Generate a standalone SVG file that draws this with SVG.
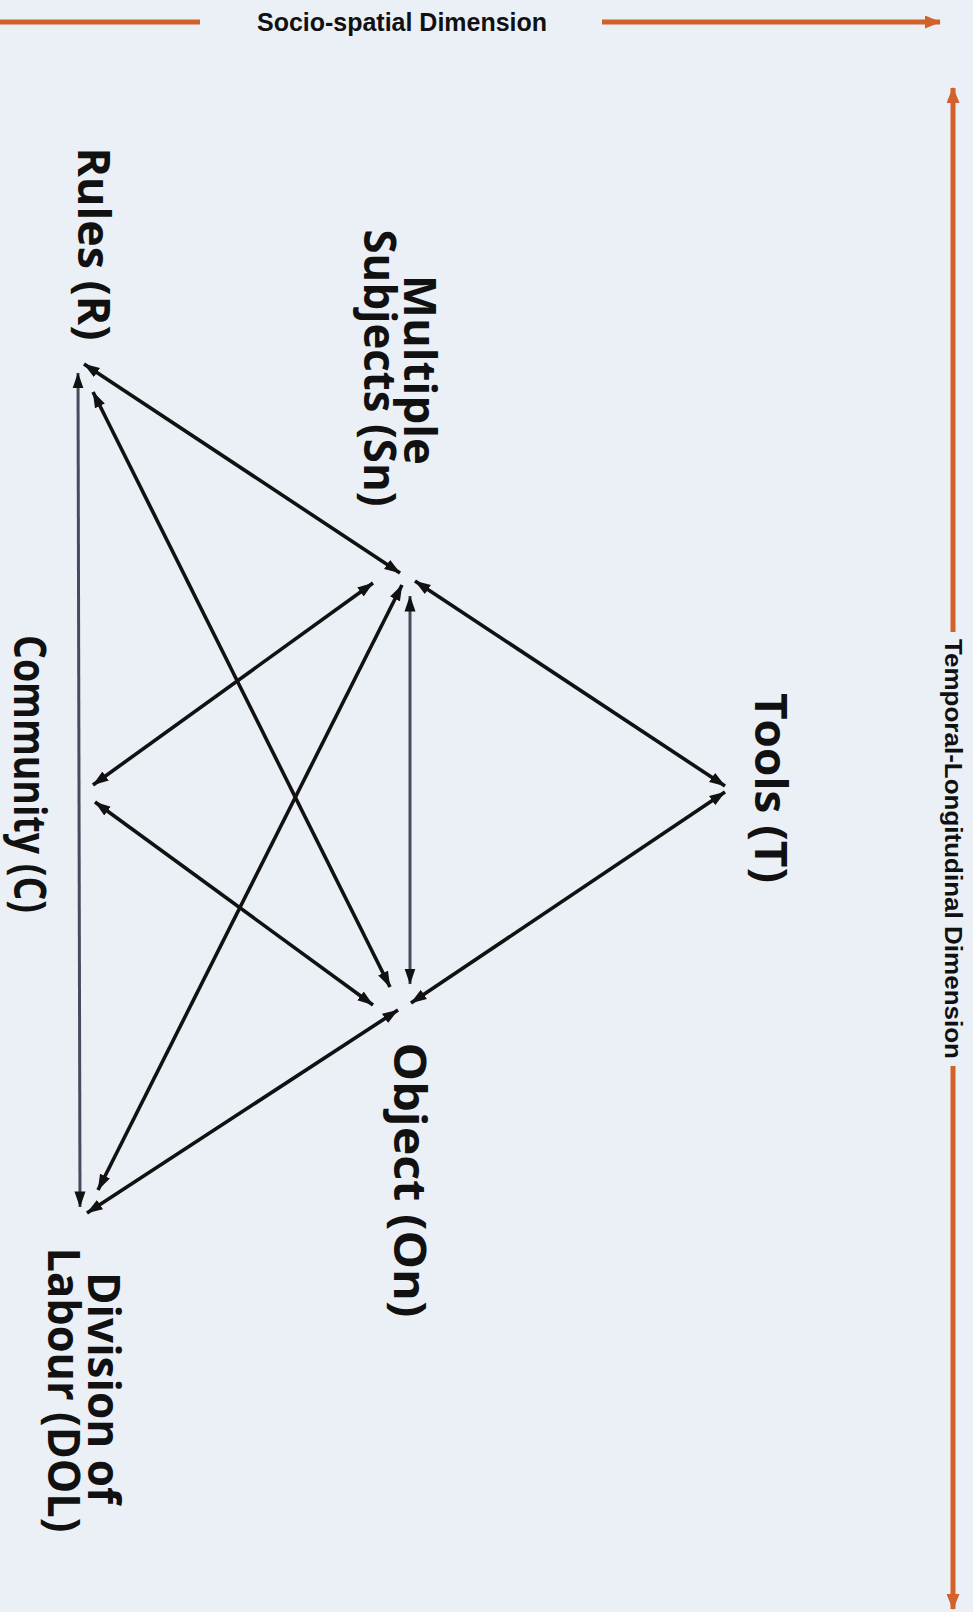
<svg xmlns="http://www.w3.org/2000/svg" width="973" height="1612" viewBox="0 0 973 1612">
  <style>
    .bg { fill: #ebeff6; }
    .edge { stroke: #111111; stroke-width: 3.6; fill: none; marker-start: url(#ah); marker-end: url(#ah); }
    .edge.gray { stroke: #4a4a5e; stroke-width: 3; }
    .axis { stroke: #d2622a; stroke-width: 5; fill: none; }
    .lbl { font-family: "Open Sans", "Noto Sans", sans-serif; font-size: 45px; font-weight: bold; fill: #111111; text-anchor: middle; }
    .axl { font-family: "Liberation Sans", Arial, sans-serif; font-weight: bold; fill: #111111; text-anchor: middle; }
  </style>
  <defs>
    <marker id="ah" viewBox="0 0 16 12" markerWidth="16" markerHeight="12" refX="15.5" refY="6" orient="auto-start-reverse" markerUnits="userSpaceOnUse">
      <path d="M0,0.5 L16,6 L0,11.5 z" fill="#111111"/>
    </marker>
    <marker id="oh" viewBox="0 0 16 13" markerWidth="16" markerHeight="13" refX="15" refY="6.5" orient="auto-start-reverse" markerUnits="userSpaceOnUse">
      <path d="M0,0 L16,6.5 L0,13 z" fill="#d2622a"/>
    </marker>
  </defs>
  <rect class="bg" x="0" y="0" width="973" height="1612"/>

  <g id="axis-socio-spatial">
    <line class="axis" x1="0" y1="22" x2="200" y2="22"/>
    <line class="axis" x1="602" y1="22" x2="940" y2="22" marker-end="url(#oh)"/>
    <text class="axl" x="402" y="31" font-size="25" textLength="290" lengthAdjust="spacingAndGlyphs">Socio-spatial Dimension</text>
  </g>

  <g id="axis-temporal-longitudinal">
    <line class="axis" x1="953" y1="88" x2="953" y2="632" marker-start="url(#oh)"/>
    <line class="axis" x1="953" y1="1066" x2="953" y2="1609" marker-end="url(#oh)"/>
    <text class="axl" transform="translate(945,849) rotate(90)" font-size="23" textLength="420" lengthAdjust="spacingAndGlyphs">Temporal-Longitudinal Dimension</text>
  </g>

  <g id="connectors">
    <line class="edge" x1="84" y1="364" x2="400" y2="573"/>
    <line class="edge" x1="93" y1="392" x2="390" y2="987"/>
    <line class="edge gray" x1="78" y1="373" x2="80" y2="1207"/>
    <line class="edge" x1="373" y1="583" x2="93" y2="785"/>
    <line class="edge" x1="402" y1="585" x2="98" y2="1190"/>
    <line class="edge gray" x1="410" y1="596" x2="410" y2="984"/>
    <line class="edge" x1="415" y1="581" x2="725" y2="786"/>
    <line class="edge" x1="725" y1="792" x2="411" y2="1003"/>
    <line class="edge" x1="95" y1="802" x2="373" y2="1005"/>
    <line class="edge" x1="398" y1="1010" x2="87" y2="1213"/>
  </g>

  <g id="node-rules">
    <text class="lbl" transform="translate(78,244) rotate(90)" textLength="193" lengthAdjust="spacingAndGlyphs">Rules (R)</text>
  </g>
  <g id="node-subjects">
    <text class="lbl" transform="translate(404,370) rotate(90)" textLength="190" lengthAdjust="spacingAndGlyphs">Multiple</text>
    <text class="lbl" transform="translate(364,368) rotate(90)" textLength="277" lengthAdjust="spacingAndGlyphs">Subjects (Sn)</text>
  </g>
  <g id="node-community">
    <text class="lbl" transform="translate(14,774) rotate(90)" textLength="278" lengthAdjust="spacingAndGlyphs">Community (C)</text>
  </g>
  <g id="node-tools">
    <text class="lbl" transform="translate(755,788) rotate(90)" textLength="190" lengthAdjust="spacingAndGlyphs">Tools (T)</text>
  </g>
  <g id="node-object">
    <text class="lbl" transform="translate(394,1180) rotate(90)" textLength="275" lengthAdjust="spacingAndGlyphs">Object (On)</text>
  </g>
  <g id="node-division-of-labour">
    <text class="lbl" transform="translate(88,1388) rotate(90)" textLength="232" lengthAdjust="spacingAndGlyphs">Division of</text>
    <text class="lbl" transform="translate(48,1390) rotate(90)" textLength="285" lengthAdjust="spacingAndGlyphs">Labour (DOL)</text>
  </g>
</svg>
